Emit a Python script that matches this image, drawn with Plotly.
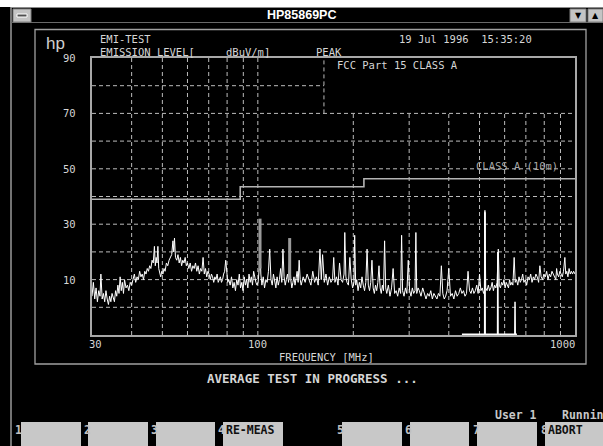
import math
import plotly.graph_objects as go

W, H = 603, 446

# ---------------- data (MHz, dBuV/m) ----------------
peak_a = [(30.0, 4), (30.3, 9), (30.6, 3), (30.9, 7), (31.2, 2), (31.5, 6), (31.8, 4), (32.0, 12),
          (32.3, 3), (32.6, 5), (32.9, 2), (33.2, 6), (33.5, 3), (33.8, 1), (34.1, 4), (34.4, 2),
          (34.7, 5), (35.0, 3), (35.3, 2), (35.6, 6), (35.9, 4), (36.2, 8), (36.5, 5), (36.8, 11),
          (37.1, 6), (37.4, 9), (37.7, 5), (38.0, 10), (38.4, 7), (38.8, 8), (39.2, 6), (39.6, 9), (40.0, 8)]
peak_b = [(40.4, 10), (40.8, 12), (41.2, 9), (41.6, 11), (42.0, 10), (42.4, 13), (42.8, 11), (43.2, 12),
          (43.6, 10), (44.0, 13), (44.4, 12), (44.8, 14), (45.2, 13), (45.6, 15), (46.0, 14), (46.4, 17),
          (46.8, 16), (47.2, 22), (47.5, 15), (47.8, 18), (48.1, 16), (48.4, 22), (48.7, 14), (49.0, 12),
          (49.4, 11), (49.8, 13)]
peak_c = [(50.2, 12), (50.6, 14), (51.0, 13), (51.5, 16), (52.0, 15), (52.5, 17), (53.0, 18), (53.5, 19),
          (54.0, 24), (54.3, 20), (54.6, 25), (55.0, 18), (55.5, 17), (56.0, 19), (56.5, 16), (57.0, 18),
          (57.5, 15), (58.0, 17), (58.5, 16), (59.0, 18), (59.5, 15), (60.0, 16)]
peak_d = [(60.6, 14), (61.2, 16), (61.8, 13), (62.4, 15), (63.0, 14), (63.6, 16), (64.2, 13), (64.8, 15),
          (65.4, 12), (66.0, 14), (66.6, 13), (67.2, 18), (67.8, 12), (68.4, 14), (69.0, 11), (69.6, 13),
          (70.2, 12), (70.8, 10), (71.4, 12), (72.0, 11), (72.6, 9), (73.2, 11), (73.8, 10), (74.4, 12),
          (75.0, 9), (75.6, 10), (76.2, 11), (76.8, 9), (77.4, 10), (78.0, 12), (78.6, 13), (79.2, 17),
          (79.8, 11), (80.4, 9)]
peak_e = [(81.0, 10), (81.8, 8), (82.6, 11), (83.4, 7), (84.2, 9), (85.0, 6), (85.8, 10), (86.6, 8),
          (87.4, 12), (88.2, 7), (89.0, 9), (89.8, 6), (90.6, 11), (91.4, 8), (92.2, 10), (93.0, 7),
          (93.8, 12), (94.6, 9), (95.4, 11), (96.2, 8), (97.0, 13), (97.8, 10), (98.6, 9), (99.4, 8)]
peak_f = [(100.2, 9), (101.0, 14), (101.6, 23), (102.2, 12), (103.0, 8), (104.0, 11), (105.0, 7), (106.0, 10),
          (107.0, 9), (108.0, 13), (109.0, 21), (110.0, 10), (111.0, 8), (112.0, 12), (113.0, 9), (114.0, 7),
          (115.0, 11), (116.0, 8), (117.0, 10), (118.0, 14), (119.0, 9), (120.0, 21), (121.0, 11), (122.0, 8),
          (123.0, 10), (124.0, 12), (125.0, 9), (126.0, 18), (127.0, 10), (128.0, 7), (129.0, 9), (130.0, 11),
          (131.0, 8), (132.0, 10), (133.0, 13), (134.0, 9), (135.0, 17), (136.0, 10)]
peak_g = [(137, 8), (139, 11), (141, 9), (143, 12), (145, 10), (147, 8), (149, 13), (151, 9), (153, 11),
          (155, 8), (157, 21), (158.5, 10), (160, 19), (162, 9), (164, 12), (166, 8), (168, 11), (170, 9),
          (172, 10), (173.5, 18), (175, 9), (177, 11), (179, 8), (181, 16), (183, 10), (185, 9), (187, 12),
          (188, 27), (189.5, 11), (191, 9), (193, 8), (195, 18), (197, 10), (199, 7), (201, 9), (202, 26),
          (203.5, 8), (205, 10), (207, 6), (209, 9), (211, 7), (213, 11), (215, 8), (217, 6), (219, 9)]
peak_h = [(221, 21), (223, 8), (225, 6), (227, 9), (229, 17), (231, 7), (233, 5), (235, 8), (237, 6),
          (239, 9), (241, 15), (243, 7), (245, 5), (247, 8), (249, 6), (251, 24), (253, 7), (255, 5),
          (258, 8), (261, 4), (264, 7), (267, 14), (270, 5), (273, 6), (276, 4), (279, 7), (282, 5),
          (284, 26), (286, 6), (289, 4), (292, 7), (295, 5), (298, 17), (301, 6), (304, 4), (307, 7),
          (310, 5), (313, 6), (315, 27), (317, 5), (320, 7)]
peak_i = [(323, 6), (327, 4), (331, 7), (335, 5), (339, 3), (343, 5), (347, 4), (351, 6), (355, 3),
          (359, 5), (363, 4), (367, 3), (371, 5), (375, 4), (379, 15), (383, 5), (387, 3), (391, 4),
          (395, 6), (400, 14), (405, 4), (410, 5), (415, 3), (420, 6), (425, 4), (430, 5), (435, 7),
          (440, 5), (445, 6), (450, 4), (455, 5), (460, 13), (465, 6), (470, 5), (475, 7), (480, 5),
          (485, 6), (490, 8), (495, 5), (500, 12), (505, 6), (510, 7), (515, 5)]
peak_j = [(518, 6), (520, 35), (523, 7), (528, 6), (533, 8), (538, 6), (543, 7), (548, 9), (553, 6),
          (558, 8), (563, 7), (568, 9), (573, 21), (577, 8), (582, 7), (587, 9), (592, 8), (597, 10),
          (602, 7), (607, 9), (612, 8), (617, 7), (622, 10), (627, 8), (632, 9), (637, 8), (643, 18),
          (648, 9), (654, 10), (660, 8), (666, 11), (672, 9), (678, 10), (684, 12), (690, 9), (697, 10),
          (704, 8), (711, 11), (718, 10), (725, 12), (732, 9), (739, 11), (746, 10), (753, 12), (760, 11),
          (768, 9), (775, 15), (782, 11), (790, 10), (798, 12), (806, 11), (814, 13), (822, 10), (830, 12),
          (838, 11), (846, 13), (854, 12), (862, 11), (870, 10), (875, 14), (880, 12), (888, 11), (896, 13),
          (904, 12), (912, 11), (920, 13), (929, 18), (935, 12), (942, 13), (950, 11), (958, 14), (966, 12),
          (974, 13), (982, 12), (990, 13), (1000, 12)]

limit_freq = [30, 88, 216, 1000]
limit_level = [39, 43.5, 46.4, 46.4]

avg_freq = [440, 519, 519.5, 520.5, 521, 570, 571, 572, 646, 647, 648, 656]
avg_level = [-9.7, -9.7, 34, 34, -9.7, -9.7, 20, -9.7, -9.7, 2, -9.7, -9.7]

grey_freq = [101.6, 101.6, None, 126.0, 126.0]
grey_level = [14, 32, None, 10, 25]

x_label_ticks = [30, 100, 1000]
y_label_ticks = [10, 30, 50, 70, 90]
x_grid = [40, 50, 60, 70, 80, 90, 100, 200, 300, 400, 500, 600, 700, 800, 900]
y_grid = [0, 10, 20, 30, 40, 50, 60, 70, 80]
f_min, f_max, db_min, db_max = 30, 1000, -10, 90
box_left_freq, box_bottom_db = 161.6, 70   # "FCC Part 15 CLASS A" box (no grid inside)

soft_keys = ["", "", "", "RE-MEAS", "", "", "", "ABORT"]

# ---------------- helpers ----------------
def px(x):
    return x / W

def py(y):
    return 1 - y / H

peak = peak_a + peak_b + peak_c + peak_d + peak_e + peak_f + peak_g + peak_h + peak_i + peak_j
peak_freq = [p[0] for p in peak]
peak_level = [p[1] for p in peak]

MONO = "DejaVu Sans Mono"
TXT = "#d6d6d6"
GRID = "#bcbcbc"

# dashed grid (stops at the legend box in the top-right corner)
gx, gy = [], []
for f in x_grid:
    top = db_max if f < box_left_freq else box_bottom_db
    gx += [f, f, None]
    gy += [db_min, top, None]
for v in y_grid:
    right = f_max if v <= box_bottom_db else box_left_freq
    gx += [f_min, right, None]
    gy += [v, v, None]
gx += [box_left_freq, box_left_freq, None]
gy += [box_bottom_db, db_max, None]

fig = go.Figure()
fig.add_trace(go.Scatter(x=gx, y=gy, mode="lines", line=dict(color=GRID, width=1, dash="4px,3px"),
                         hoverinfo="skip", connectgaps=False))
fig.add_trace(go.Scatter(x=limit_freq, y=limit_level, mode="lines", line=dict(color="#b4b4b4", width=1.6, shape="hv"),
                         hoverinfo="skip"))
fig.add_trace(go.Scatter(x=peak_freq, y=peak_level, mode="lines", line=dict(color="#ffffff", width=1),
                         hoverinfo="skip"))
fig.add_trace(go.Scatter(x=grey_freq, y=grey_level, mode="lines", line=dict(color="#9a9a9a", width=3),
                         hoverinfo="skip"))
fig.add_trace(go.Scatter(x=avg_freq, y=avg_level, mode="lines", line=dict(color="#ffffff", width=1.5),
                         hoverinfo="skip"))

xd = [px(92), px(575)]
yd = [py(335), py(58)]

fig.update_layout(
    width=W, height=H, margin=dict(l=0, r=0, t=0, b=0),
    paper_bgcolor="#000000", plot_bgcolor="#000000", showlegend=False,
    xaxis=dict(type="log", range=[math.log10(f_min), math.log10(f_max)], domain=xd,
               showticklabels=False, ticks="", showgrid=False, zeroline=False,
               showline=True, mirror=True, linecolor="#a8a8a8", linewidth=1.5),
    yaxis=dict(range=[db_min, db_max], domain=yd, showticklabels=False, ticks="",
               showgrid=False, zeroline=False,
               showline=True, mirror=True, linecolor="#a8a8a8", linewidth=1.5),
)

shapes = []
# window chrome
shapes.append(dict(type="rect", xref="paper", yref="paper", x0=0, x1=1, y0=py(7), y1=1,
                   fillcolor="#ffffff", line=dict(width=0), layer="above"))
shapes.append(dict(type="line", xref="paper", yref="paper", x0=px(11), x1=1, y0=py(7.5), y1=py(7.5),
                   line=dict(color="#8a8a8a", width=1.2)))
shapes.append(dict(type="line", xref="paper", yref="paper", x0=px(11), x1=px(11), y0=py(7), y1=0,
                   line=dict(color="#9a9a9a", width=1.5)))
shapes.append(dict(type="line", xref="paper", yref="paper", x0=px(11), x1=1, y0=py(22.5), y1=py(22.5),
                   line=dict(color="#6a6a6a", width=1)))
# title bar buttons
shapes.append(dict(type="rect", xref="paper", yref="paper", x0=px(13), x1=px(31), y0=py(22), y1=py(9),
                   fillcolor="#c4c4c4", line=dict(color="#808080", width=1)))
shapes.append(dict(type="rect", xref="paper", yref="paper", x0=px(17), x1=px(27), y0=py(17), y1=py(14),
                   fillcolor="#505050", line=dict(color="#ffffff", width=1)))
shapes.append(dict(type="rect", xref="paper", yref="paper", x0=px(570), x1=px(586), y0=py(22), y1=py(9),
                   fillcolor="#c4c4c4", line=dict(color="#808080", width=1)))
shapes.append(dict(type="rect", xref="paper", yref="paper", x0=px(588), x1=px(603), y0=py(22), y1=py(9),
                   fillcolor="#c4c4c4", line=dict(color="#808080", width=1)))
# inner instrument panel
shapes.append(dict(type="rect", xref="paper", yref="paper", x0=px(35), x1=px(586), y0=py(364), y1=py(29.5),
                   line=dict(color="#a0a0a0", width=1.3)))

# soft keys
key_num_x = [13, 82, 149, 216, 335, 403, 471, 539]
key_x0 = [21, 88, 156, 223, 342, 410, 477, 545]
key_x1 = [81, 148, 215, 283, 402, 469, 537, 603]
for i in range(8):
    shapes.append(dict(type="rect", xref="paper", yref="paper", x0=px(key_x0[i]), x1=px(key_x1[i]),
                       y0=0, y1=py(422), fillcolor="#c8c8c8", line=dict(width=0)))

fig.update_layout(shapes=shapes)

ann = []

def text(x, y, s, size=10.5, color=TXT, anchor="left", family=MONO, bold=False):
    if bold:
        s = "<b>" + s + "</b>"
    ann.append(dict(x=px(x), y=py(y), xref="paper", yref="paper", text=s, showarrow=False,
                    xanchor=anchor, yanchor="middle", font=dict(family=family, size=size, color=color)))

NB = "\u00a0"
text(302, 15, "HP85869PC", size=12.5, color="#ffffff", anchor="center", family="Liberation Sans", bold=True)
text(578, 15.5, "▼", size=8, color="#000000", anchor="center", family="DejaVu Sans")
text(595.5, 15.5, "▲", size=8, color="#000000", anchor="center", family="DejaVu Sans")

text(44, 44, "hp", size=17, color="#d0d0d0", family="Liberation Sans")
text(98, 39, "EMI-TEST")
text(98, 52, "EMISSION LEVEL[")
text(224, 52, "dBuV/m]")
text(314, 52, "PEAK")
text(397, 39, "19 Jul 1996" + NB * 2 + "15:35:20")
text(335, 65, "FCC Part 15 CLASS A")
text(474, 166, "CLASS A (10m)", color="#a8a8a8")
text(326, 357, "FREQUENCY [MHz]", anchor="center")
text(312, 378, "AVERAGE TEST IN PROGRESS ...", size=12.5, anchor="center", bold=True)
text(493, 415, "User 1", size=11.5, bold=True, color="#c8c8c8")
text(560, 415, "Running", size=11.5, bold=True, color="#c8c8c8")

for v in y_label_ticks:
    ann.append(dict(x=px(78), y=v, xref="paper", yref="y", text=str(v), showarrow=False,
                    xanchor="right", yanchor="middle", font=dict(family=MONO, size=10.5, color=TXT)))
x_anchor = {30: ("left", -5), 100: ("center", 0), 1000: ("right", 2)}
for v in x_label_ticks:
    a, sh = x_anchor[v]
    ann.append(dict(x=math.log10(v), y=py(344), xref="x", yref="paper", text=str(v), showarrow=False,
                    xanchor=a, xshift=sh, yanchor="middle", font=dict(family=MONO, size=10.5, color=TXT)))

for i in range(8):
    text(key_num_x[i], 430, str(i + 1), size=11.5, color="#c0c0c0", bold=True)
    if soft_keys[i]:
        text(key_x0[i] + 1, 430, soft_keys[i], size=11.5, color="#101010", bold=True)

fig.update_layout(annotations=ann)
fig.write_html("out.html", config={"displayModeBar": False},
               post_script="document.body.style.margin='0';document.body.style.overflow='hidden';")
